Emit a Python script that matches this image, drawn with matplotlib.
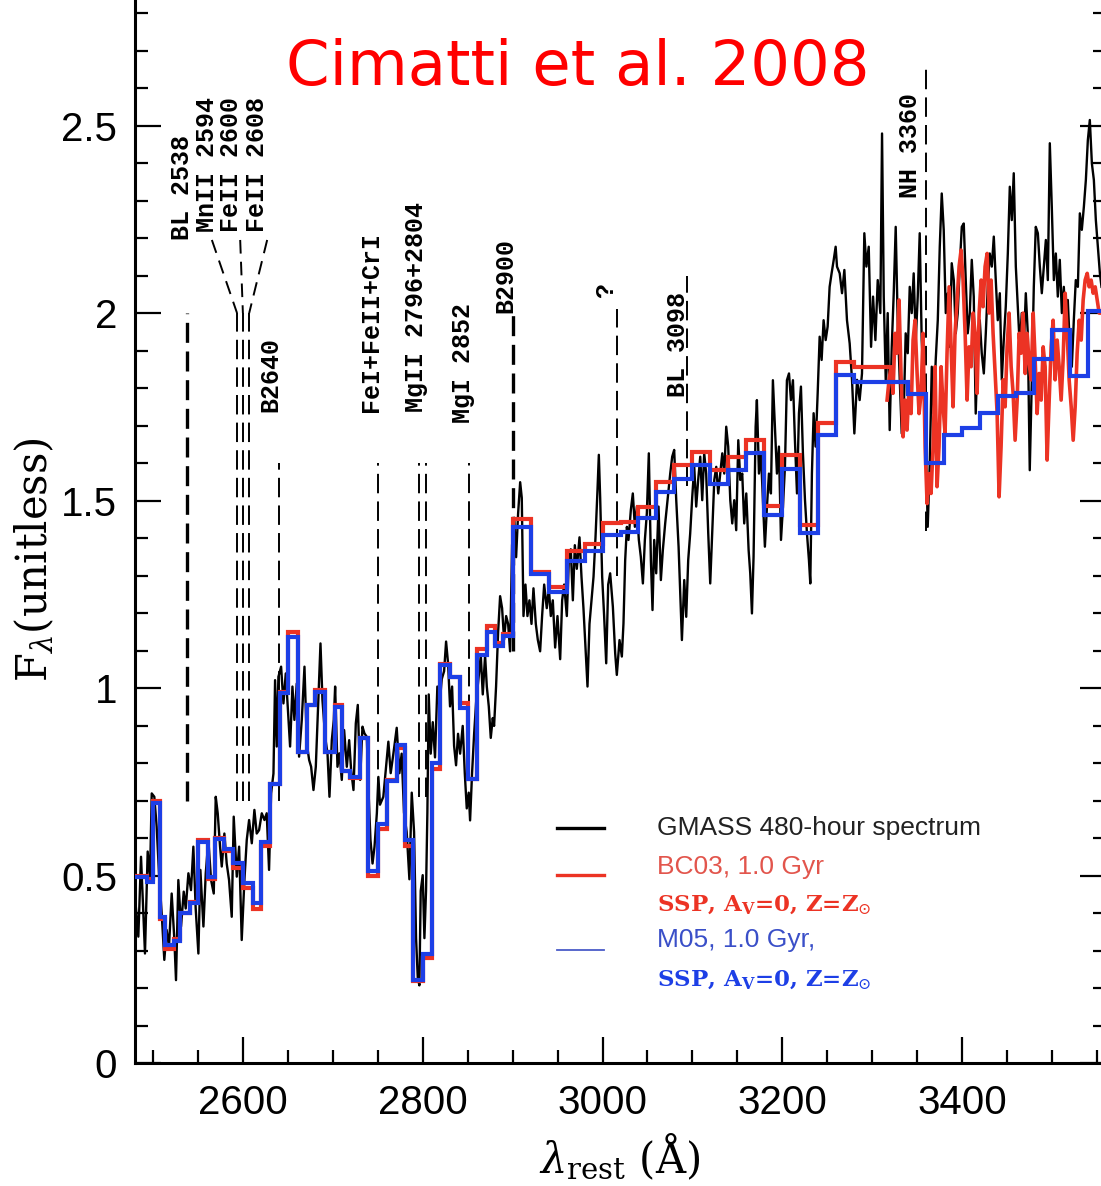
import matplotlib
matplotlib.use('Agg')
import matplotlib.pyplot as plt
from matplotlib.ticker import MultipleLocator

plt.rcParams['font.family'] = ['Liberation Sans', 'DejaVu Sans']
plt.rcParams['mathtext.fontset'] = 'dejavuserif'

# GMASS 480-hour stacked spectrum, rest frame
gmass_wave = [
    2480.0, 2483.7, 2486.7, 2489.3, 2491.1, 2494.1, 2496.7, 2498.6, 2501.5, 2504.1,
    2506.7, 2509.7, 2512.6, 2515.2, 2517.8, 2520.8, 2523.8, 2525.6, 2528.2, 2531.2,
    2534.2, 2536.4, 2539.4, 2542.3, 2544.9, 2547.5, 2550.5, 2552.7, 2556.1, 2558.7,
    2561.6, 2564.6, 2567.6, 2569.8, 2572.0, 2574.6, 2576.5, 2579.4, 2582.0, 2584.6,
    2587.6, 2589.8, 2593.2, 2595.8, 2598.7, 2601.7, 2604.3, 2606.9, 2609.9, 2612.8,
    2615.4, 2618.0, 2621.0, 2624.0, 2626.5, 2629.1, 2631.4, 2634.0, 2635.8, 2637.7,
    2639.5, 2642.5, 2645.1, 2647.7, 2649.9, 2652.5, 2655.1, 2657.3, 2659.9, 2662.5,
    2665.5, 2668.5, 2671.1, 2673.7, 2675.9, 2678.5, 2681.1, 2684.1, 2686.3, 2688.5,
    2691.5, 2694.1, 2696.3, 2698.9, 2701.1, 2702.6, 2705.2, 2707.4, 2710.0, 2712.6,
    2715.6, 2718.2, 2720.4, 2723.0, 2725.6, 2727.8, 2730.4, 2733.0, 2735.2, 2737.8,
    2739.7, 2741.9, 2744.2, 2746.4, 2749.0, 2750.7, 2752.5, 2756.2, 2761.8, 2764.4,
    2767.4, 2771.1, 2774.1, 2776.6, 2779.2, 2782.2, 2785.2, 2787.8, 2790.4, 2792.6,
    2794.5, 2796.3, 2797.8, 2800.0, 2801.9, 2803.7, 2805.2, 2806.7, 2808.9, 2811.2,
    2813.7, 2816.3, 2818.6, 2821.2, 2823.8, 2826.0, 2828.2, 2830.4, 2832.7, 2834.9,
    2837.1, 2839.3, 2841.6, 2844.5, 2846.8, 2849.0, 2851.2, 2852.7, 2854.9, 2857.2,
    2859.4, 2862.0, 2864.6, 2866.8, 2869.4, 2871.3, 2873.5, 2875.7, 2877.9, 2879.4,
    2881.6, 2883.9, 2886.1, 2888.3, 2890.5, 2892.8, 2895.0, 2897.2, 2899.4, 2901.7,
    2903.9, 2906.1, 2908.4, 2910.2, 2912.1, 2914.3, 2916.5, 2918.7, 2921.0, 2923.2,
    2925.8, 2928.0, 2930.6, 2932.8, 2935.1, 2938.0, 2940.3, 2942.5, 2944.7, 2947.3,
    2949.9, 2952.9, 2955.1, 2957.3, 2960.3, 2962.5, 2964.7, 2967.0, 2969.2, 2971.4,
    2974.4, 2976.6, 2978.8, 2981.1, 2983.3, 2985.5, 2987.7, 2990.0, 2992.2, 2994.4,
    2995.9, 2997.4, 2999.6, 3001.8, 3004.1, 3006.3, 3008.5, 3011.5, 3014.1, 3015.9,
    3018.9, 3021.5, 3023.3, 3025.2, 3027.1, 3028.9, 3031.5, 3033.7, 3036.0, 3038.2,
    3040.4, 3042.6, 3044.9, 3047.1, 3049.3, 3051.5, 3053.8, 3055.6, 3057.5, 3059.7,
    3062.3, 3064.9, 3067.1, 3069.7, 3072.3, 3075.3, 3077.5, 3079.7, 3082.0, 3084.6,
    3086.4, 3088.3, 3090.9, 3093.1, 3095.3, 3097.5, 3099.8, 3102.0, 3104.2, 3106.4,
    3108.7, 3110.9, 3113.1, 3115.3, 3117.6, 3119.8, 3122.0, 3124.3, 3126.5, 3128.7,
    3130.9, 3133.2, 3135.4, 3137.6, 3139.8, 3142.1, 3144.3, 3146.5, 3148.7, 3151.0,
    3153.2, 3155.4, 3157.6, 3159.9, 3162.5, 3164.3, 3166.2, 3168.0, 3170.3, 3171.7,
    3174.0, 3176.2, 3178.4, 3180.6, 3182.9, 3185.1, 3187.3, 3189.5, 3191.8, 3194.0,
    3196.2, 3198.5, 3200.7, 3202.9, 3205.1, 3207.4, 3209.6, 3211.8, 3214.0, 3216.3,
    3218.5, 3220.7, 3222.9, 3225.2, 3227.4, 3229.6, 3231.1, 3232.9, 3234.8, 3237.0,
    3239.3, 3241.5, 3243.7, 3245.9, 3248.2, 3250.4, 3252.6, 3254.8, 3257.1, 3259.3,
    3260.8, 3263.8, 3266.4, 3269.0, 3271.9, 3274.9, 3277.5, 3280.1, 3283.1, 3286.0,
    3288.6, 3291.2, 3293.5, 3296.1, 3298.7, 3300.9, 3303.5, 3306.1, 3309.0, 3310.9,
    3312.8, 3315.0, 3317.2, 3319.4, 3321.7, 3323.9, 3326.1, 3328.3, 3330.6, 3332.8,
    3335.0, 3337.2, 3339.5, 3341.7, 3343.9, 3346.1, 3348.4, 3350.6, 3352.8, 3355.0,
    3357.3, 3359.5, 3361.7, 3364.0, 3366.2, 3368.4, 3370.6, 3372.9, 3375.1, 3377.3,
    3379.5, 3381.8, 3384.0, 3386.2, 3388.4, 3390.7, 3392.9, 3395.1, 3397.3, 3399.6,
    3401.8, 3404.0, 3406.2, 3408.5, 3410.7, 3412.9, 3415.1, 3417.4, 3419.6, 3421.8,
    3424.1, 3426.3, 3428.5, 3430.7, 3433.0, 3435.2, 3437.4, 3439.6, 3441.9, 3444.1,
    3446.3, 3448.5, 3450.8, 3453.0, 3455.2, 3457.4, 3459.7, 3461.9, 3464.1, 3466.3,
    3468.6, 3470.8, 3473.0, 3475.2, 3477.5, 3479.7, 3481.9, 3484.2, 3486.4, 3488.6,
    3490.8, 3493.1, 3495.3, 3497.5, 3499.7, 3502.0, 3504.2, 3506.4, 3508.6, 3510.9,
    3513.1, 3515.3, 3517.5, 3519.8, 3522.0, 3524.2, 3526.4, 3528.7, 3530.9, 3533.1,
    3535.4, 3537.6, 3539.8, 3542.0, 3544.3, 3546.5, 3548.7, 3550.9, 3553.2, 3555.0,
]
gmass_flux = [
    0.444, 0.337, 0.550, 0.399, 0.292, 0.564, 0.497, 0.719, 0.710, 0.630,
    0.506, 0.399, 0.275, 0.355, 0.310, 0.452, 0.328, 0.221, 0.488, 0.364,
    0.457, 0.412, 0.506, 0.461, 0.577, 0.412, 0.292, 0.515, 0.364, 0.506,
    0.595, 0.488, 0.452, 0.710, 0.666, 0.577, 0.524, 0.612, 0.532, 0.488,
    0.390, 0.657, 0.497, 0.577, 0.328, 0.488, 0.595, 0.648, 0.586, 0.675,
    0.612, 0.621, 0.666, 0.648, 0.666, 0.515, 0.719, 0.772, 1.021, 0.844,
    1.030, 1.057, 0.959, 1.039, 0.950, 0.844, 1.004, 0.915, 1.012, 0.817,
    0.915, 1.057, 0.852, 0.808, 0.790, 0.728, 0.790, 0.977, 1.119, 0.968,
    0.870, 0.826, 0.710, 0.861, 0.915, 1.004, 0.790, 0.826, 0.755, 0.888,
    0.790, 0.861, 0.781, 0.728, 0.906, 0.955, 0.755, 0.897, 0.879, 0.870,
    0.728, 0.595, 0.532, 0.577, 0.666, 0.763, 0.689, 0.710, 0.857, 0.773,
    0.825, 0.894, 0.773, 0.825, 0.668, 0.616, 0.490, 0.721, 0.616, 0.333,
    0.228, 0.207, 0.459, 0.501, 0.333, 0.459, 0.668, 0.983, 0.825, 0.909,
    0.815, 1.004, 0.951, 1.024, 1.045, 1.124, 1.066, 0.951, 1.004, 0.846,
    0.794, 0.878, 0.825, 0.899, 0.773, 0.679, 0.721, 0.647, 0.773, 0.878,
    0.962, 1.024, 1.087, 0.983, 1.087, 1.004, 0.951, 0.867, 0.920, 0.899,
    1.004, 1.150, 1.245, 1.213, 1.129, 1.192, 1.171, 1.098, 1.381, 1.454,
    1.349, 1.465, 1.549, 1.507, 1.192, 1.276, 1.192, 1.234, 1.171, 1.266,
    1.171, 1.129, 1.098, 1.192, 1.276, 1.213, 1.266, 1.192, 1.234, 1.108,
    1.192, 1.077, 1.234, 1.276, 1.192, 1.339, 1.370, 1.234, 1.381, 1.318,
    1.402, 1.297, 1.213, 1.108, 1.004, 1.171, 1.234, 1.297, 1.402, 1.528,
    1.622, 1.507, 1.297, 1.192, 1.066, 1.276, 1.306, 1.217, 1.092, 1.035,
    1.128, 1.084, 1.172, 1.341, 1.430, 1.395, 1.475, 1.519, 1.430, 1.484,
    1.395, 1.350, 1.279, 1.395, 1.466, 1.626, 1.341, 1.208, 1.395, 1.306,
    1.484, 1.288, 1.368, 1.439, 1.501, 1.572, 1.617, 1.635, 1.501, 1.377,
    1.252, 1.128, 1.288, 1.190, 1.341, 1.412, 1.510, 1.590, 1.484, 1.555,
    1.617, 1.501, 1.626, 1.572, 1.412, 1.279, 1.412, 1.555, 1.590, 1.519,
    1.572, 1.626, 1.572, 1.697, 1.644, 1.501, 1.439, 1.501, 1.421, 1.661,
    1.555, 1.572, 1.439, 1.519, 1.368, 1.306, 1.199, 1.350, 1.697, 1.768,
    1.572, 1.626, 1.501, 1.377, 1.484, 1.572, 1.519, 1.821, 1.697, 1.572,
    1.644, 1.395, 1.484, 1.590, 1.821, 1.839, 1.768, 1.821, 1.661, 1.519,
    1.733, 1.804, 1.626, 1.501, 1.412, 1.341, 1.279, 1.572, 1.733, 1.644,
    1.786, 1.937, 1.875, 1.981, 1.928, 1.964, 2.070, 2.106, 2.141, 2.177,
    2.124, 2.106, 2.053, 2.115, 1.981, 1.919, 1.822, 1.679, 1.822, 1.768,
    1.839, 2.213, 2.124, 2.177, 1.910, 2.044, 1.928, 2.088, 2.000, 2.479,
    2.044, 1.822, 2.000, 1.688, 1.910, 2.053, 2.230, 1.981, 1.822, 1.679,
    1.732, 1.946, 1.893, 2.070, 2.000, 2.106, 1.928, 2.044, 2.213, 1.928,
    1.822, 1.661, 1.430, 1.599, 1.857, 1.732, 1.875, 1.981, 2.177, 2.319,
    2.222, 2.000, 2.053, 1.910, 2.133, 2.088, 1.946, 2.000, 2.124, 2.230,
    2.239, 2.088, 1.946, 2.000, 2.142, 2.044, 1.732, 1.910, 1.981, 1.893,
    1.839, 1.946, 2.070, 2.159, 2.124, 2.204, 2.088, 1.981, 2.053, 1.822,
    1.928, 2.017, 2.159, 2.337, 2.248, 2.373, 2.124, 2.017, 1.910, 2.000,
    1.910, 2.053, 1.946, 1.581, 1.822, 2.070, 2.230, 2.213, 2.124, 2.053,
    2.124, 2.195, 2.088, 2.453, 2.284, 2.088, 2.159, 2.044, 2.142, 2.000,
    2.070, 1.955, 2.035, 1.910, 1.857, 1.981, 2.088, 2.070, 2.266, 2.222,
    2.284, 2.355, 2.461, 2.515, 2.399, 2.355, 2.248, 2.177, 2.106, 2.070,
]

# binned SSP models (1.0 Gyr, Av=0, solar metallicity)
bin_edges = [
    2480, 2493, 2500, 2508, 2513, 2523, 2530, 2541, 2550, 2561, 2569, 2579, 2589,
    2600, 2611, 2620, 2630, 2641, 2650, 2661, 2671, 2680, 2691, 2702, 2710, 2719,
    2730, 2739, 2750, 2760, 2771, 2780, 2789, 2800, 2810, 2819, 2830, 2841, 2850,
    2860, 2872, 2880, 2889, 2900, 2920, 2940, 2960, 2980, 3000, 3020, 3040, 3060,
    3080, 3100, 3120, 3140, 3160, 3180, 3200, 3220, 3240, 3260, 3280, 3300, 3320,
    3340, 3360, 3380, 3400, 3420, 3440, 3460, 3480, 3500, 3520, 3540, 3560,
]
m05_flux = [
    0.496, 0.483, 0.693, 0.390, 0.315, 0.326, 0.400, 0.427, 0.590, 0.496, 0.597, 0.571, 0.533,
    0.480, 0.427, 0.590, 0.745, 0.987, 1.136, 0.830, 0.955, 0.990, 0.830, 0.950, 0.780,
    0.763, 0.866, 0.513, 0.637, 0.752, 0.847, 0.595, 0.221, 0.290, 0.800, 1.061, 1.030,
    0.946, 0.757, 1.088, 1.150, 1.113, 1.140, 1.430, 1.303, 1.256, 1.339, 1.365, 1.408,
    1.416, 1.453, 1.523, 1.557, 1.595, 1.544, 1.581, 1.626, 1.461, 1.584, 1.413, 1.675,
    1.835, 1.816, 1.816, 1.816, 1.784, 1.600, 1.675, 1.693, 1.733, 1.779, 1.787, 1.877,
    1.955, 1.832, 2.005,
]
bc03_flux = [
    0.500, 0.490, 0.700, 0.385, 0.305, 0.330, 0.400, 0.430, 0.595, 0.490, 0.600, 0.565, 0.520,
    0.467, 0.410, 0.580, 0.745, 0.990, 1.150, 0.830, 0.955, 0.995, 0.830, 0.955, 0.780,
    0.760, 0.866, 0.500, 0.625, 0.755, 0.840, 0.580, 0.219, 0.280, 0.784, 1.065, 1.030,
    0.960, 0.757, 1.105, 1.165, 1.120, 1.145, 1.450, 1.310, 1.270, 1.365, 1.385, 1.440,
    1.443, 1.483, 1.549, 1.595, 1.630, 1.581, 1.616, 1.661, 1.485, 1.621, 1.435, 1.706,
    1.869, 1.856, 1.856,
]

# BC03 model at full resolution in the red end
bc03_hr_wave = [
    3316.5, 3318.7, 3320.9, 3323.1, 3325.4, 3327.6, 3329.8, 3332.0, 3334.3, 3336.5,
    3338.7, 3340.9, 3343.2, 3345.4, 3347.6, 3349.9, 3352.1, 3354.3, 3356.5, 3358.8,
    3361.0, 3363.2, 3365.4, 3367.7, 3369.9, 3372.1, 3374.3, 3376.6, 3378.8, 3381.0,
    3383.2, 3385.5, 3387.7, 3389.9, 3392.1, 3394.4, 3396.6, 3398.8, 3401.0, 3403.3,
    3405.5, 3407.7, 3410.0, 3412.2, 3414.4, 3416.6, 3418.9, 3421.1, 3423.3, 3425.5,
    3427.8, 3430.0, 3432.2, 3434.4, 3436.7, 3438.9, 3441.1, 3443.3, 3445.6, 3447.8,
    3450.0, 3452.2, 3454.5, 3456.7, 3458.9, 3461.2, 3463.4, 3465.6, 3467.8, 3470.1,
    3472.3, 3474.5, 3476.7, 3479.0, 3481.2, 3483.4, 3485.6, 3487.9, 3490.1, 3492.3,
    3494.5, 3496.8, 3499.0, 3501.2, 3503.4, 3505.7, 3507.9, 3510.1, 3512.3, 3514.6,
    3516.8, 3519.0, 3521.3, 3523.5, 3525.7, 3527.9, 3530.2, 3532.4, 3534.6, 3536.8,
    3539.1, 3541.3, 3543.5, 3545.7, 3548.0, 3550.2, 3552.4, 3555.0,
]
bc03_hr_flux = [
    1.768, 1.822, 1.857, 1.786, 1.946, 1.893, 2.035, 1.839, 1.670, 1.768,
    1.688, 1.804, 1.732, 1.928, 1.981, 1.839, 1.732, 1.786, 1.946, 1.644,
    1.492, 1.572, 1.519, 1.644, 1.857, 1.537, 1.644, 1.857, 1.750, 1.679,
    1.893, 2.070, 1.910, 1.750, 1.946, 2.035, 2.124, 2.168, 2.088, 1.946,
    1.768, 1.910, 1.857, 2.000, 1.946, 1.786, 2.000, 2.088, 2.017, 2.124,
    2.159, 2.000, 2.088, 1.946, 1.839, 1.732, 1.510, 1.644, 1.822, 1.750,
    1.910, 2.000, 1.857, 1.786, 1.661, 1.768, 1.946, 1.893, 2.000, 1.839,
    1.946, 1.866, 1.822, 2.000, 1.875, 1.732, 1.839, 1.768, 1.910, 1.857,
    1.608, 1.768, 1.910, 1.981, 1.822, 1.928, 1.857, 1.768, 1.875, 2.053,
    1.946, 1.822, 1.750, 1.661, 1.750, 1.893, 1.981, 1.928, 2.035, 2.088,
    2.106, 2.070, 2.088, 2.053, 2.070, 2.035, 2.000, 2.000,
]

# spectral features marked with dashed lines
feat_wave = [2538, 2593.5, 2600, 2607, 2640, 2750, 2796, 2803.5, 2852, 2900, 3016, 3094, 3360]
feat_top = [2.00, 2.00, 2.00, 2.00, 1.60, 1.60, 1.60, 1.60, 1.60, 2.00, 2.01, 2.10, 2.67]
feat_bottom = [0.70, 0.70, 0.70, 0.70, 0.70, 0.71, 0.71, 0.71, 0.93, 1.10, 1.30, 1.54, 1.42]
feat_heavy = [True, False, False, False, False, False, False, False, False, True, False, False, False]

# leader lines for the blended MnII/FeII group
leader_from = [2565.5, 2597.0, 2627.0]
leader_top = 2.195

label_text = ['BL 2538', 'MnII 2594', 'FeII 2600', 'FeII 2608', 'B2640', 'FeI+FeII+CrI',
              'MgII 2796+2804', 'MgI 2852', 'B2900', '?', 'BL 3098', 'NH 3360']
label_wave = [2532.3, 2560.0, 2586.6, 2615.6, 2631.0, 2742.5, 2792.6, 2844.8, 2891.6, 3004.0, 3084.0, 3342.0]
label_base = [2.195, 2.215, 2.215, 2.215, 1.736, 1.736, 1.736, 1.707, 2.000, 2.040, 1.776, 2.307]

RED = '#ec3324'
BLUE = '#1d3fe6'

fig = plt.figure(figsize=(11.01, 11.86), dpi=100)
ax = fig.add_axes([135 / 1101, 123 / 1186, 971 / 1101, 1063 / 1186])

for w, t, b, heavy in zip(feat_wave, feat_top, feat_bottom, feat_heavy):
    lw = 2.4 if heavy else 1.4
    dash = (6, 2.6) if heavy else (10, 4.2)
    ax.plot([w, w], [b, t], color='black', lw=lw, ls=(0, dash), zorder=1)
for w0, w1 in zip(leader_from, feat_wave[1:4]):
    ax.plot([w0, w1], [leader_top, 2.0], color='black', lw=1.4, ls=(0, (7, 4.2)), zorder=1)

for txt, w, y in zip(label_text, label_wave, label_base):
    ax.text(w, y, txt, rotation=90, ha='center', va='bottom', fontsize=18,
            fontweight='bold', family=['Liberation Mono', 'DejaVu Sans Mono'])

ax.plot(gmass_wave, gmass_flux, color='black', lw=1.7, zorder=2)
ax.stairs(bc03_flux, bin_edges[:len(bc03_flux) + 1], baseline=None, color=RED, lw=3.0, zorder=3)
ax.plot(bc03_hr_wave, bc03_hr_flux, color=RED, lw=2.6, zorder=3)
ax.stairs(m05_flux, bin_edges, baseline=None, color=BLUE, lw=3.0, zorder=4)

ax.set_xlim(2480, 3560)
ax.set_ylim(0, 2.835)
ax.xaxis.set_major_locator(MultipleLocator(200))
ax.xaxis.set_minor_locator(MultipleLocator(50))
ax.yaxis.set_major_locator(MultipleLocator(0.5))
ax.yaxis.set_minor_locator(MultipleLocator(0.1))
ax.yaxis.set_major_formatter(plt.FuncFormatter(lambda v, p: '0' if v == 0 else f'{v:g}'))
ax.tick_params(which='both', direction='in', width=1.6, right=True, top=False, labelsize=29)
ax.tick_params(which='major', length=19)
ax.tick_params(which='minor', length=9.5)
ax.tick_params(axis='x', pad=15)
ax.tick_params(axis='y', pad=13)
ax.spines['top'].set_visible(False)
for s in ('left', 'bottom', 'right'):
    ax.spines[s].set_linewidth(2.2)

# legend drawn by hand
ax.plot([0.4346, 0.483], [0.2211, 0.2211], transform=ax.transAxes, color='black', lw=2.4)
ax.plot([0.4346, 0.483], [0.1770, 0.1770], transform=ax.transAxes, color=RED, lw=2.4)
ax.plot([0.4346, 0.483], [0.1063, 0.1063], transform=ax.transAxes, color='#4a5cc8', lw=1.3)
lx = 0.5376
ax.text(lx, 0.2211, 'GMASS 480-hour spectrum', transform=ax.transAxes, va='center',
        fontsize=19, color='#222222')
ax.text(lx, 0.1844, 'BC03, 1.0 Gyr', transform=ax.transAxes, va='center',
        fontsize=19, color='#e2554c')
ax.text(lx, 0.1486, r'SSP, A$_{\mathbf{V}}$=0, Z=Z$_{\odot}$', transform=ax.transAxes, va='center',
        fontsize=16.5, color=RED, fontweight='bold', family=['DejaVu Serif'])
ax.text(lx, 0.1157, 'M05, 1.0 Gyr,', transform=ax.transAxes, va='center',
        fontsize=19, color='#3a4fc8')
ax.text(lx, 0.0781, r'SSP, A$_{\mathbf{V}}$=0, Z=Z$_{\odot}$', transform=ax.transAxes, va='center',
        fontsize=16.5, color=BLUE, fontweight='bold', family=['DejaVu Serif'])

fig.text(578 / 1101, 1 - 68 / 1186, 'Cimatti et al. 2008', ha='center', va='center',
         fontsize=45, color='#ff0000', family=['DejaVu Sans'])
fig.text(35 / 1101, 1 - 560 / 1186, r'F$_\lambda$(unitless)', rotation=90, ha='center', va='center',
         fontsize=30, family=['DejaVu Serif'])
fig.text(620 / 1101, 1 - 1157 / 1186, r'$\lambda_{\rm rest}$ (Å)', ha='center', va='center',
         fontsize=30, family=['DejaVu Serif'])

fig.savefig('out.png', dpi=100)
